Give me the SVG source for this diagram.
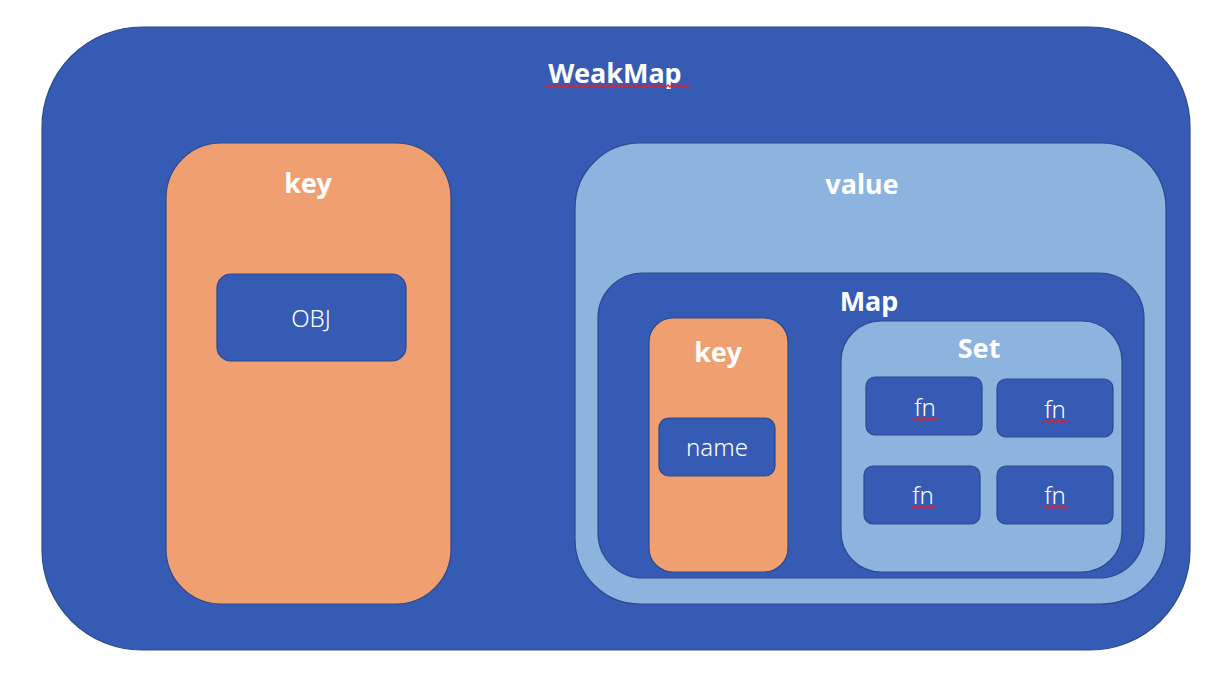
<svg xmlns="http://www.w3.org/2000/svg" width="1218" height="673" viewBox="0 0 1218 673">
<style>
.dark{fill:#365BB5;stroke:#2C4A8E;stroke-width:1.2}
.org{fill:#F0A070;stroke:#2C4A8E;stroke-width:1.2}
.lb{fill:#8DB4DF;stroke:#2C4A8E;stroke-width:1.2}
.tb{font-family:"Noto Sans","Open Sans",sans-serif;font-weight:bold;font-size:27px;fill:#fff;text-anchor:middle}
.tn{font-family:"Noto Sans","Open Sans",sans-serif;font-weight:300;font-size:24px;fill:#fff;text-anchor:middle}
.sq{fill:none;stroke:#E0202A;stroke-width:1.3}
</style>
<rect width="1218" height="673" fill="#fff"/>
<g id="weakmap">
<rect class="dark" x="42" y="27" width="1148" height="623" rx="100" ry="100"/>
<text class="tb" x="615" y="83">WeakMap</text>
<path class="sq" d="M546,87 l2,-2 l2,2 l2,-2 l2,2 l2,-2 l2,2 l2,-2 l2,2 l2,-2 l2,2 l2,-2 l2,2 l2,-2 l2,2 l2,-2 l2,2 l2,-2 l2,2 l2,-2 l2,2 l2,-2 l2,2 l2,-2 l2,2 l2,-2 l2,2 l2,-2 l2,2 l2,-2 l2,2 l2,-2 l2,2 l2,-2 l2,2 l2,-2 l2,2 l2,-2 l2,2 l2,-2 l2,2 l2,-2 l2,2 l2,-2 l2,2 l2,-2 l2,2 l2,-2 l2,2 l2,-2 l2,2 l2,-2 l2,2 l2,-2 l2,2 l2,-2 l2,2 l2,-2 l2,2 l2,-2 l2,2 l2,-2 l2,2 l2,-2 l2,2 l2,-2 l2,2 l2,-2 l2,2 l2,-2 l2,2 l2,-2 l2,2"/>
</g>
<g id="key">
<rect class="org" x="166" y="143" width="285" height="461" rx="55" ry="55"/>
<text class="tb" x="308" y="193">key</text>
</g>
<g id="obj">
<rect class="dark" x="217" y="274" width="189" height="87" rx="14" ry="14"/>
<text class="tn" x="311" y="327">OBJ</text>
</g>
<g id="value">
<rect class="lb" x="575" y="143" width="591" height="461" rx="65" ry="65"/>
<text class="tb" x="862" y="194">value</text>
</g>
<g id="map">
<rect class="dark" x="598" y="273" width="546" height="305" rx="45" ry="45"/>
<text class="tb" x="869" y="311">Map</text>
</g>
<g id="mapkey">
<rect class="org" x="649" y="318" width="139" height="254" rx="24" ry="24"/>
<text class="tb" x="718" y="362">key</text>
</g>
<g id="name">
<rect class="dark" x="659" y="418" width="116" height="58" rx="10" ry="10"/>
<text class="tn" x="717" y="456">name</text>
</g>
<g id="set">
<rect class="lb" x="841" y="321" width="281" height="251" rx="40" ry="40"/>
<text class="tb" x="979" y="358">Set</text>
</g>
<g id="fn1">
<rect class="dark" x="866" y="377" width="116" height="58" rx="9" ry="9"/>
<text class="tn" x="925" y="416">fn</text>
<path class="sq" d="M913,418.5 l1.5,1.5 l1.5,-1.5 l1.5,1.5 l1.5,-1.5 l1.5,1.5 l1.5,-1.5 l1.5,1.5 l1.5,-1.5 l1.5,1.5 l1.5,-1.5 l1.5,1.5 l1.5,-1.5 l1.5,1.5 l1.5,-1.5 l1.5,1.5 l1.5,-1.5"/>
</g>
<g id="fn2">
<rect class="dark" x="997" y="379" width="116" height="58" rx="9" ry="9"/>
<text class="tn" x="1055" y="418">fn</text>
<path class="sq" d="M1044,420.5 l1.5,1.5 l1.5,-1.5 l1.5,1.5 l1.5,-1.5 l1.5,1.5 l1.5,-1.5 l1.5,1.5 l1.5,-1.5 l1.5,1.5 l1.5,-1.5 l1.5,1.5 l1.5,-1.5 l1.5,1.5 l1.5,-1.5 l1.5,1.5 l1.5,-1.5"/>
</g>
<g id="fn3">
<rect class="dark" x="864" y="466" width="116" height="58" rx="9" ry="9"/>
<text class="tn" x="923" y="504">fn</text>
<path class="sq" d="M911,506.5 l1.5,1.5 l1.5,-1.5 l1.5,1.5 l1.5,-1.5 l1.5,1.5 l1.5,-1.5 l1.5,1.5 l1.5,-1.5 l1.5,1.5 l1.5,-1.5 l1.5,1.5 l1.5,-1.5 l1.5,1.5 l1.5,-1.5 l1.5,1.5 l1.5,-1.5"/>
</g>
<g id="fn4">
<rect class="dark" x="997" y="466" width="116" height="58" rx="9" ry="9"/>
<text class="tn" x="1055" y="504">fn</text>
<path class="sq" d="M1044,506.5 l1.5,1.5 l1.5,-1.5 l1.5,1.5 l1.5,-1.5 l1.5,1.5 l1.5,-1.5 l1.5,1.5 l1.5,-1.5 l1.5,1.5 l1.5,-1.5 l1.5,1.5 l1.5,-1.5 l1.5,1.5 l1.5,-1.5 l1.5,1.5 l1.5,-1.5"/>
</g>
<g id="connectors"/>
</svg>
